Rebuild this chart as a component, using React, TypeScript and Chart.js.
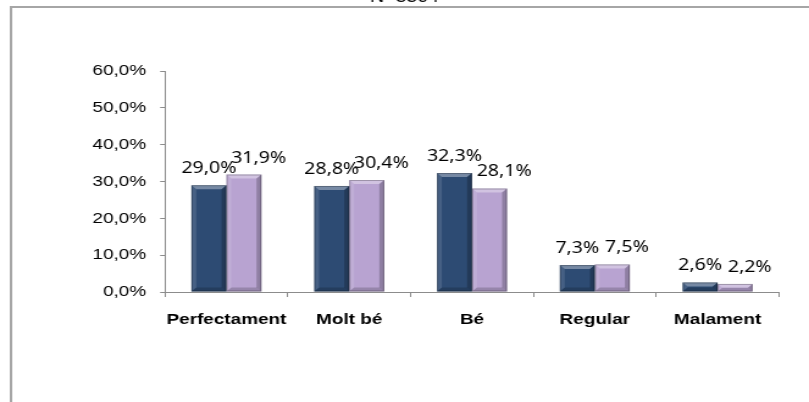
import React, { useEffect, useRef } from "react";
import { Chart, registerables } from "chart.js";

Chart.register(...registerables);

const TITLE = "N=3304";
const CATEGORIES = ["Perfectament", "Molt bé", "Bé", "Regular", "Malament"];
const SERIES_A = [29.0, 28.8, 32.3, 7.3, 2.6];
const SERIES_B = [31.9, 30.4, 28.1, 7.5, 2.2];
const SERIES_NAMES = ["Sèrie 1", "Sèrie 2"];
const Y_MIN = 0;
const Y_MAX = 60;
const Y_STEP = 10;

const COLOR_A = "#2d4b73";
const COLOR_B = "#b8a3d1";
const AXIS_COLOR = "#8c8c8c";
const FONT = "'Liberation Sans', Arial, sans-serif";
const LABEL_FONT = "'Noto Sans', 'Liberation Sans', sans-serif";

// the reference is horizontally stretched: draw narrower, stretch with CSS
const OUT_W = 809;
const OUT_H = 402;
const STRETCH = 1.22;
const W = Math.round(OUT_W / STRETCH);

const fmt = (v: number) => v.toFixed(1).replace(".", ",") + "%";

const framePlugin = {
  id: "frame",
  beforeDraw(chart: any) {
    const ctx = chart.ctx;
    ctx.save();
    ctx.fillStyle = "#ffffff";
    ctx.fillRect(0, 0, chart.width, chart.height);
    ctx.strokeStyle = "#a6a6a6";
    ctx.lineWidth = 2;
    ctx.strokeRect(9, 7, chart.width + 50, chart.height + 50);
    ctx.fillStyle = "#000000";
    ctx.font = `16px ${FONT}`;
    ctx.textAlign = "center";
    ctx.textBaseline = "alphabetic";
    ctx.fillText(TITLE, chart.width / 2, 2);
    ctx.restore();
  },
};

const bevelPlugin = {
  id: "bevel",
  afterDatasetsDraw(chart: any) {
    const ctx = chart.ctx;
    ctx.save();
    chart.data.datasets.forEach((_ds: any, di: number) => {
      const meta = chart.getDatasetMeta(di);
      meta.data.forEach((bar: any) => {
        const { x, y, base, width } = bar.getProps(["x", "y", "base", "width"], true);
        const l = x - width / 2;
        const r = x + width / 2;
        const t = y;
        const b = base;
        const bv = Math.min(4, (b - t) / 2);
        ctx.fillStyle = "rgba(255,255,255,0.35)";
        ctx.beginPath();
        ctx.moveTo(l, t);
        ctx.lineTo(r, t);
        ctx.lineTo(r - bv, t + bv);
        ctx.lineTo(l + bv, t + bv);
        ctx.closePath();
        ctx.fill();
        ctx.fillStyle = "rgba(255,255,255,0.12)";
        ctx.beginPath();
        ctx.moveTo(l, t);
        ctx.lineTo(l + bv, t + bv);
        ctx.lineTo(l + bv, b - bv);
        ctx.lineTo(l, b);
        ctx.closePath();
        ctx.fill();
        ctx.fillStyle = "rgba(0,0,0,0.22)";
        ctx.beginPath();
        ctx.moveTo(r, t);
        ctx.lineTo(r - bv, t + bv);
        ctx.lineTo(r - bv, b - bv);
        ctx.lineTo(r, b);
        ctx.closePath();
        ctx.fill();
        ctx.fillStyle = "rgba(0,0,0,0.18)";
        ctx.beginPath();
        ctx.moveTo(l, b);
        ctx.lineTo(l + bv, b - bv);
        ctx.lineTo(r - bv, b - bv);
        ctx.lineTo(r, b);
        ctx.closePath();
        ctx.fill();
        ctx.strokeStyle = "rgba(0,0,0,0.25)";
        ctx.lineWidth = 1;
        ctx.strokeRect(l + 0.5, t + 0.5, width - 1, b - t - 1);
      });
    });
    ctx.restore();
  },
};

const LABEL_DX = [0, 12];

const labelPlugin = {
  id: "valueLabels",
  afterDatasetsDraw(chart: any) {
    const ctx = chart.ctx;
    ctx.save();
    ctx.fillStyle = "#000000";
    ctx.font = `16px ${LABEL_FONT}`;
    ctx.textAlign = "center";
    ctx.textBaseline = "alphabetic";
    chart.data.datasets.forEach((ds: any, di: number) => {
      const meta = chart.getDatasetMeta(di);
      meta.data.forEach((bar: any, i: number) => {
        const { x, y } = bar.getProps(["x", "y"], true);
        ctx.fillText(fmt(ds.data[i]), x + LABEL_DX[di], y - 12);
      });
    });
    ctx.restore();
  },
};

export default function App() {
  const ref = useRef<HTMLCanvasElement | null>(null);

  useEffect(() => {
    document.body.style.margin = "0";
    if (!ref.current) return;
    const chart = new Chart(ref.current, {
      type: "bar",
      data: {
        labels: CATEGORIES,
        datasets: [
          {
            label: SERIES_NAMES[0],
            data: SERIES_A,
            backgroundColor: COLOR_A,
            categoryPercentage: 0.57,
            barPercentage: 1.0,
          },
          {
            label: SERIES_NAMES[1],
            data: SERIES_B,
            backgroundColor: COLOR_B,
            categoryPercentage: 0.57,
            barPercentage: 1.0,
          },
        ],
      },
      options: {
        animation: false,
        responsive: false,
        maintainAspectRatio: false,
        devicePixelRatio: 1,
        layout: { padding: { top: 71, right: 30 / STRETCH, left: 0, bottom: 0 } },
        plugins: {
          legend: { display: false },
          title: { display: false },
          tooltip: { enabled: false },
        },
        scales: {
          x: {
            grid: {
              display: true,
              drawOnChartArea: false,
              offset: true,
              tickLength: 5,
              color: AXIS_COLOR,
            },
            border: { display: true, color: AXIS_COLOR, width: 1 },
            ticks: {
              color: "#000000",
              font: { family: FONT, size: 15.5, weight: "bold" },
              padding: 13,
              maxRotation: 0,
              minRotation: 0,
              autoSkip: false,
            },
            afterFit: (s: any) => {
              s.height = 110;
            },
          },
          y: {
            min: Y_MIN,
            max: Y_MAX,
            grid: {
              display: true,
              drawOnChartArea: false,
              tickLength: 4,
              color: AXIS_COLOR,
            },
            border: { display: true, color: AXIS_COLOR, width: 1 },
            ticks: {
              stepSize: Y_STEP,
              color: "#000000",
              font: { family: FONT, size: 15.5 },
              padding: 11.5,
              callback: (v: any) => fmt(Number(v)),
            },
            afterFit: (s: any) => {
              s.width = 165 / STRETCH;
            },
          },
        },
      },
      plugins: [framePlugin, bevelPlugin, labelPlugin],
    });
    return () => chart.destroy();
  }, []);

  return (
    <div style={{ width: OUT_W, height: OUT_H, overflow: "hidden" }}>
      <canvas
        ref={ref}
        width={W}
        height={OUT_H}
        style={{ display: "block", width: OUT_W, height: OUT_H }}
      />
    </div>
  );
}
